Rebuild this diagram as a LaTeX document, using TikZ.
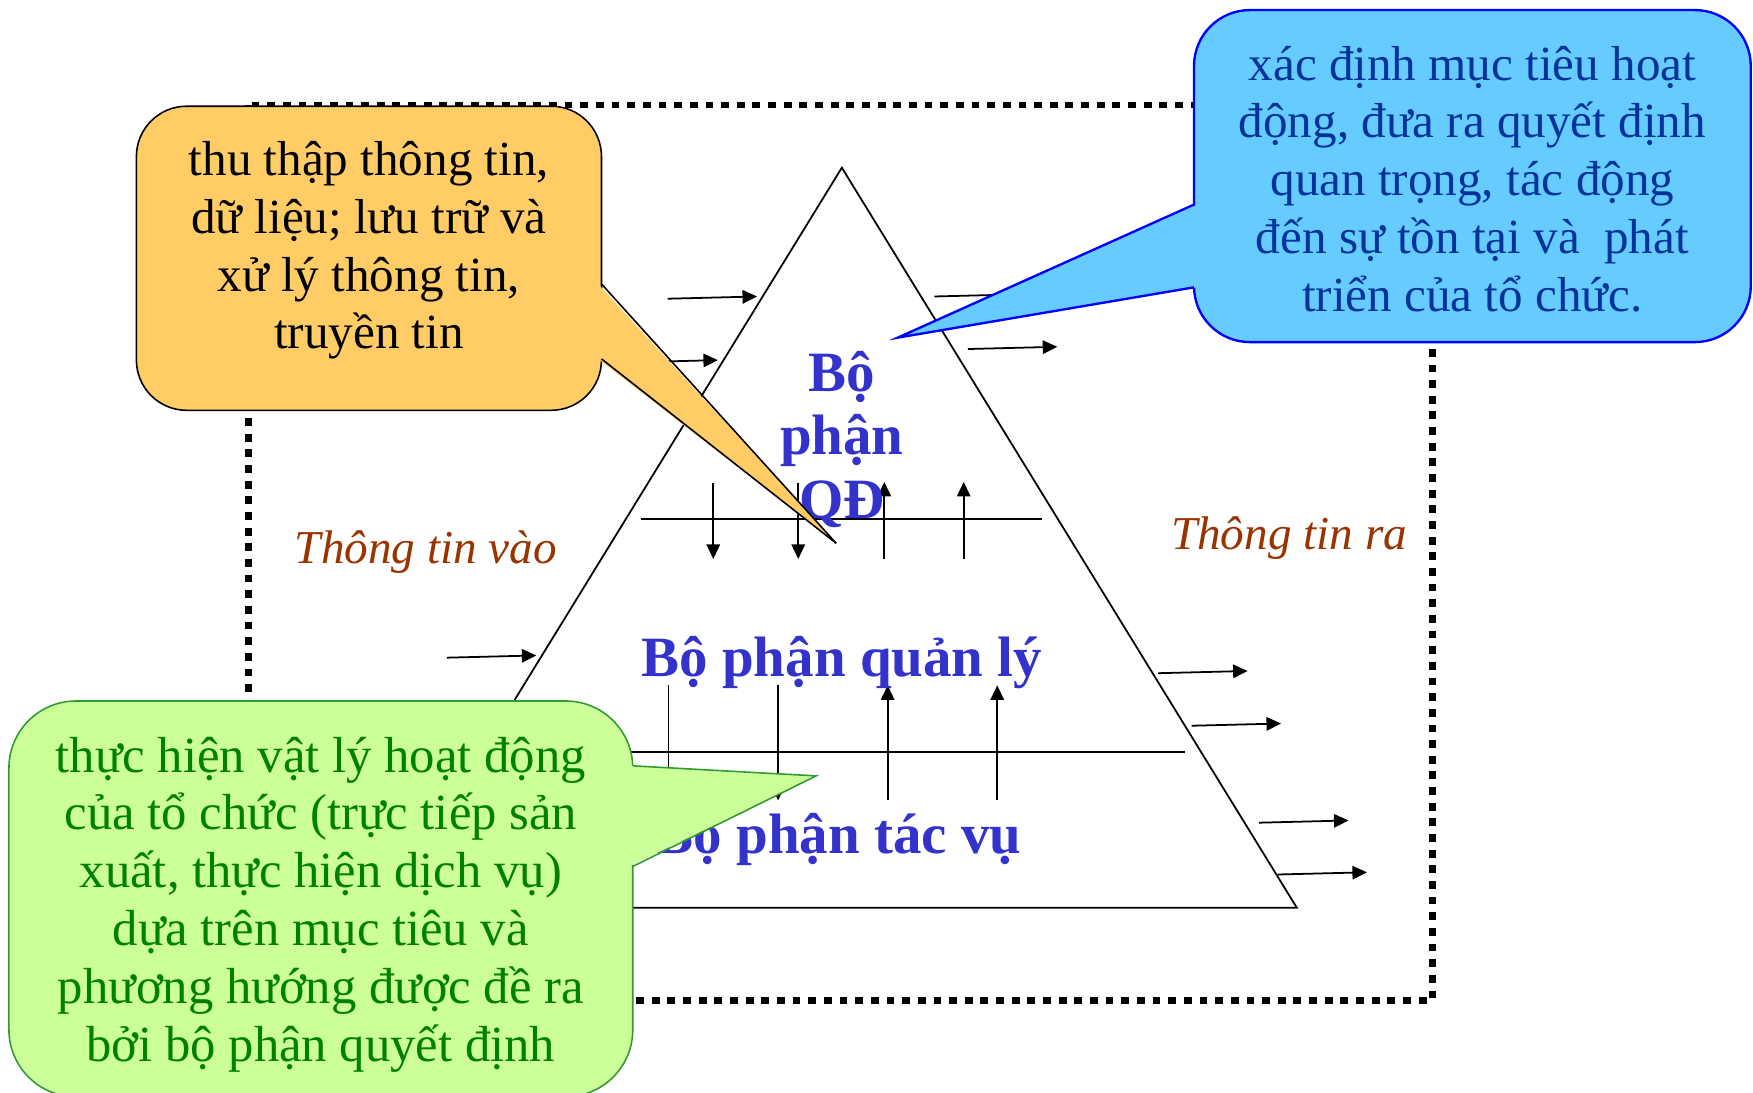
\documentclass[tikz,border=0pt]{standalone}
\usepackage{fontspec}
\setmainfont{Liberation Serif}
\usepackage{xcolor}
\definecolor{htorange}{HTML}{FFCC66}
\definecolor{htcyan}{HTML}{66CCFF}
\definecolor{htblueln}{HTML}{0000FF}
\definecolor{htbluetx}{HTML}{003399}
\definecolor{htlime}{HTML}{CCFF99}
\definecolor{htgreenln}{HTML}{339933}
\definecolor{htgreentx}{HTML}{008000}
\definecolor{htlevel}{HTML}{3333CC}
\definecolor{htflow}{HTML}{993300}
\usepackage{tikz}
\usetikzlibrary{arrows.meta,calc}

\begin{document}
\begin{tikzpicture}[x=0.1mm,y=-0.1mm,
  calltxt/.style={align=center,inner sep=0pt,font=\fontsize{12.5}{14.7}\selectfont},
  leveltxt/.style={align=center,inner sep=0pt,text=htlevel,font=\fontsize{14.5}{16.2}\selectfont\bfseries},
  flowtxt/.style={inner sep=0pt,text=htflow,font=\fontsize{12}{14}\selectfont\itshape},
  flowarr/.style={line width=0.45pt,-{Triangle[length=1.3mm,width=1.2mm]}},
  frameline/.style={line width=0.6mm,dash pattern=on 0.7mm off 0.7mm}]
\clip (0,0) rectangle (1568,977);
\draw[frameline] (222,94) rectangle (1281,895);
\coordinate (apex) at (753,150);
\coordinate (bl) at (346,812);
\coordinate (br) at (1160,812);
\draw[line width=0.45pt] (apex) -- (bl) -- (br) -- cycle;
\draw[line width=0.5pt] (573,464) -- (932,464);
\draw[line width=0.5pt] (440,673) -- (1060,673);
\foreach \x in {638,714} \draw[flowarr] (\x,432) -- (\x,500);
\foreach \x in {791,862} \draw[flowarr] (\x,500) -- (\x,431);
\foreach \x in {598,696} \draw[flowarr] (\x,613) -- (\x,716);
\foreach \x in {794,892} \draw[flowarr] (\x,716) -- (\x,613);
\foreach \f in {0.174,0.260,0.659}
  \draw[flowarr] ($(apex)!\f!(bl)+(-85,2)$) -- ($(apex)!\f!(bl)+(-5,0)$);
\foreach \f/\dx in {0.174/12,0.245/13,0.683/5,0.754/6,0.885/13,0.955/1}
  \draw[flowarr] ($(apex)!\f!(br)+(\dx,0)$) -- ++(80,-2);
\node[leveltxt] (qd) at (753,393) {Bộ\\phận\\QĐ};
\node[leveltxt] (quanly) at (753,593) {Bộ phận quản lý};
\node[leveltxt] (tacvu) at (750,751) {Bộ phận tác vụ};
\node[flowtxt] (vao) at (381,494) {Thông tin vào};
\node[flowtxt] (ra) at (1153,481) {Thông tin ra};
\draw[fill=htorange,rounded corners=4.5mm] (122,95) rectangle (538,367);
\fill[htorange] (535,254) -- (748,486) -- (535,321) -- cycle;
\draw (538,254) -- (748,486) -- (538,321);
\node[calltxt] (collect) at (330,224) {thu thập thông tin,\\dữ liệu; lưu trữ và\\xử lý thông tin,\\truyền tin};
\draw[htblueln,fill=htcyan,line width=0.6pt,rounded corners=5mm] (1068,9) rectangle (1566,306);
\fill[htcyan] (1071,183) -- (803,302) -- (1071,257) -- cycle;
\draw[htblueln,line width=0.6pt] (1068,183) -- (803,302) -- (1068,257);
\node[calltxt,text=htbluetx] (decide) at (1317,160) {xác định mục tiêu hoạt\\động, đưa ra quyết định\\quan trọng, tác động\\đến sự tồn tại và~ phát\\triển của tổ chức.};
\draw[htgreenln,fill=htlime,rounded corners=6mm] (8,627) rectangle (566,981);
\fill[htlime] (563,685) -- (730,694) -- (563,775) -- cycle;
\draw[htgreenln] (566,685) -- (730,694) -- (566,775);
\node[calltxt,text=htgreentx,font=\fontsize{12.9}{14.7}\selectfont] (execute) at (287,809) {thực hiện vật lý hoạt động\\của tổ chức (trực tiếp sản\\xuất, thực hiện dịch vụ)\\dựa trên mục tiêu và\\phương hướng được đề ra\\bởi bộ phận quyết định};
\end{tikzpicture}
\end{document}
